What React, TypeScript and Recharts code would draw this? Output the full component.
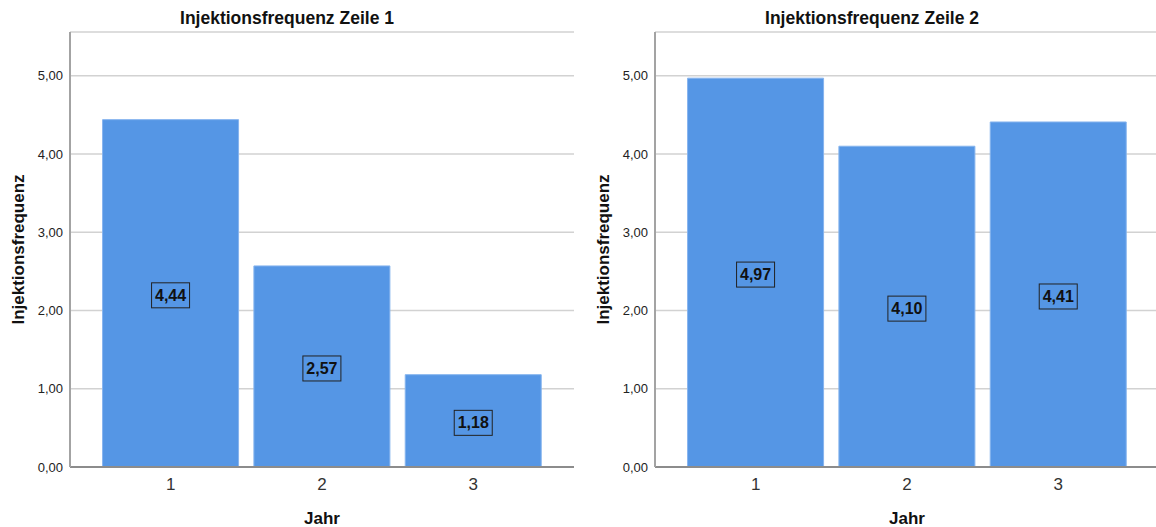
import React from "react"
import { BarChart, Bar, XAxis, YAxis, CartesianGrid, LabelList } from "recharts"

// Mean injection frequency per year, one panel per row
const years = ["1", "2", "3"]
const zeile1 = [4.44, 2.57, 1.18]
const zeile2 = [4.97, 4.1, 4.41]
const yTicks = [0, 1, 2, 3, 4, 5]

const FONT = '"Liberation Sans", Arial, sans-serif'
const BAR_FILL = "#5596e5"

const fmt = (v: number) => v.toFixed(2).replace(".", ",")

function ValueBox(props: any) {
  const { x, y, width, height, value } = props
  const cx = Number(x) + Number(width) / 2
  const cy = Number(y) + Number(height) / 2 + 2
  const w = 38
  const h = 25
  return (
    <g>
      <rect x={cx - w / 2} y={cy - h / 2} width={w} height={h} fill="none" stroke="#222" strokeWidth={1} />
      <text
        x={cx}
        y={cy}
        textAnchor="middle"
        dominantBaseline="central"
        fontFamily={FONT}
        fontWeight="bold"
        fontSize={16}
        fill="#111"
      >
        {fmt(Number(value))}
      </text>
    </g>
  )
}

interface PanelProps {
  title: string
  values: number[]
  left: number
}

function Panel({ title, values, left }: PanelProps) {
  const data = years.map((jahr, i) => ({ jahr, wert: values[i] }))
  return (
    <div style={{ position: "absolute", left, top: 0, width: 585, height: 527 }}>
      <div
        style={{
          position: "absolute",
          left: 0,
          top: 8,
          width: 574,
          textAlign: "center",
          fontFamily: FONT,
          fontWeight: "bold",
          fontSize: 17.5,
          color: "#111",
        }}
      >
        {title}
      </div>
      <BarChart
        width={585}
        height={527}
        data={data}
        margin={{ top: 32, right: 11, bottom: 20, left: 0 }}
        barCategoryGap="5%"
      >
        <CartesianGrid horizontal vertical={false} stroke="#d2d2d2" strokeWidth={1.5} />
        <XAxis
          dataKey="jahr"
          height={40}
          padding={{ left: 25, right: 25 }}
          axisLine={{ stroke: "#8c8c8c", strokeWidth: 2 }}
          tickLine={false}
          tickSize={0}
          tickMargin={11}
          tick={{ fontSize: 17, fill: "#333", fontFamily: FONT }}
          label={{
            content: (p: any) => {
              const vb = p.viewBox || {}
              return (
                <text
                  x={vb.x + vb.width / 2}
                  y={518}
                  textAnchor="middle"
                  dominantBaseline="central"
                  fontFamily={FONT}
                  fontWeight="bold"
                  fontSize={17}
                  fill="#111"
                >
                  Jahr
                </text>
              )
            },
          }}
        />
        <YAxis
          width={70}
          domain={[0, 5.56]}
          ticks={yTicks}
          tickFormatter={fmt}
          axisLine={{ stroke: "#a3a3a3", strokeWidth: 2 }}
          tickLine={false}
          tickSize={0}
          tickMargin={7}
          tick={{ fontSize: 13, fill: "#222", fontFamily: FONT }}
          label={{
            content: (p: any) => {
              const vb = p.viewBox || {}
              const cy = vb.y + vb.height / 2
              return (
                <text
                  x={18}
                  y={cy}
                  transform={`rotate(-90 18 ${cy})`}
                  textAnchor="middle"
                  dominantBaseline="central"
                  fontFamily={FONT}
                  fontWeight="bold"
                  fontSize={17}
                  fill="#111"
                >
                  Injektionsfrequenz
                </text>
              )
            },
          }}
        />
        <Bar dataKey="wert" fill={BAR_FILL} stroke="#86b4ee" strokeWidth={1} isAnimationActive={false}>
          <LabelList dataKey="wert" content={ValueBox} />
        </Bar>
      </BarChart>
    </div>
  )
}

export default function App() {
  return (
    <div
      style={{
        position: "absolute",
        left: 0,
        top: 0,
        width: 1156,
        height: 527,
        overflow: "hidden",
        background: "#fff",
      }}
    >
      <Panel title="Injektionsfrequenz Zeile 1" values={zeile1} left={0} />
      <Panel title="Injektionsfrequenz Zeile 2" values={zeile2} left={585} />
    </div>
  )
}
